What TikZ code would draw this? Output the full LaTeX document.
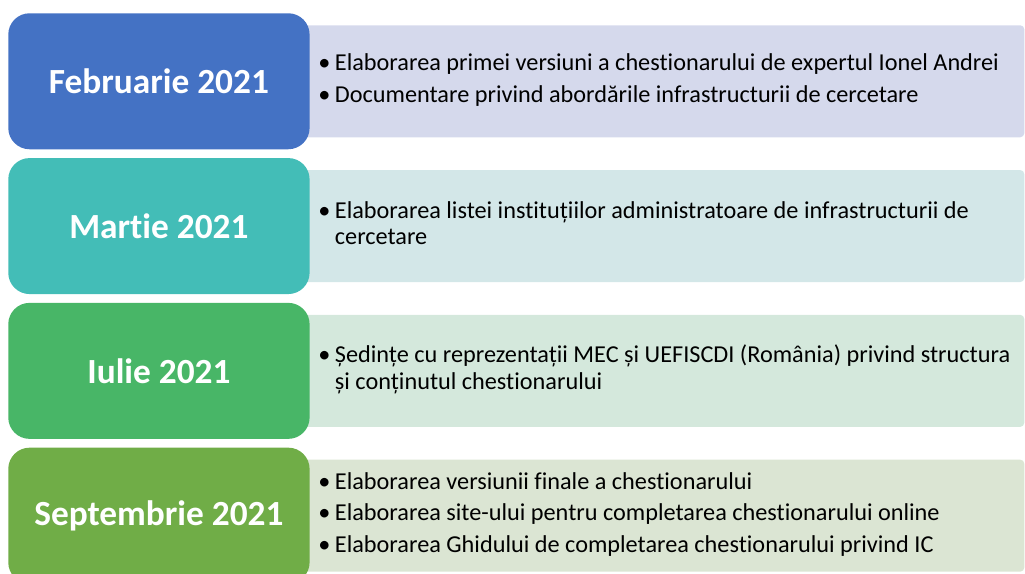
\documentclass[tikz,border=0pt]{standalone}
\usepackage{fontspec}
\setmainfont{Carlito}[RawFeature={-liga}]
\usetikzlibrary{positioning}

\definecolor{febdark}{HTML}{4472C4}
\definecolor{feblight}{HTML}{D5D9EC}
\definecolor{mardark}{HTML}{43BDB7}
\definecolor{marlight}{HTML}{D3E7E8}
\definecolor{iuldark}{HTML}{48B667}
\definecolor{iullight}{HTML}{D4E8DC}
\definecolor{sepdark}{HTML}{70AD47}
\definecolor{seplight}{HTML}{DBE5D3}

% bullet lists inside the panels
\newcommand\blist[1]{\begin{tabular}{@{}p{12.5pt}@{}l@{}}#1\end{tabular}}
\newcommand\bit{\textbullet&}

\begin{document}
\begin{tikzpicture}[x=0.75pt, y=-0.75pt,
    datebox/.style={draw=none, rounded corners=16pt, minimum width=226pt, minimum height=102pt,
      anchor=north west, text=white, font=\bfseries\fontsize{26.5}{30}\selectfont},
    panel/.style={draw=none, rounded corners=3pt, minimum width=543pt, minimum height=84pt,
      anchor=north west},
    items/.style={anchor=west, align=left, inner sep=0pt, font=\fontsize{18.2}{19.9}\selectfont}]
  \useasboundingbox (0,0) rectangle (1025,574);
  % Define the distance between rows
  \newcommand\DistRows{144.8}

  % Draw the panels and the date boxes
  \foreach \i/\date/\dark/\light in {0/Februarie 2021/febdark/feblight,
      1/Martie 2021/mardark/marlight, 2/Iulie 2021/iuldark/iullight,
      3/Septembrie 2021/sepdark/seplight} {
    \pgfmathsetmacro\Shift{\i*\DistRows}
    % light panel behind the box
    \node[panel, fill=\light] (panel\i) at (300,25+\Shift) {};
    % date box
    \node[datebox, fill=\dark] (date\i) at (8,13+\Shift) {\date};
  }

  % Add the texts of the panels
  \node[items] (text0) at ([xshift=13.5pt]panel0.west) {\blist{
    \bit Elaborarea primei versiuni a chestionarului de expertul Ionel Andrei\\[3.7pt]
    \bit Documentare privind abordările infrastructurii de cercetare}};
  \node[items] (text1) at ([xshift=13.5pt]panel1.west) {\blist{
    \bit Elaborarea listei instituțiilor administratoare de infrastructurii de\\
    & cercetare}};
  \node[items] (text2) at ([xshift=13.5pt]panel2.west) {\blist{
    \bit Ședințe cu reprezentații MEC și UEFISCDI (România) privind structura\\
    & și conținutul chestionarului}};
  \node[items] (text3) at ([xshift=13.5pt]panel3.west) {\blist{
    \bit Elaborarea versiunii finale a chestionarului\\[3.7pt]
    \bit Elaborarea site-ului pentru completarea chestionarului online\\[3.7pt]
    \bit Elaborarea Ghidului de completarea chestionarului privind IC}};
\end{tikzpicture}
\end{document}
